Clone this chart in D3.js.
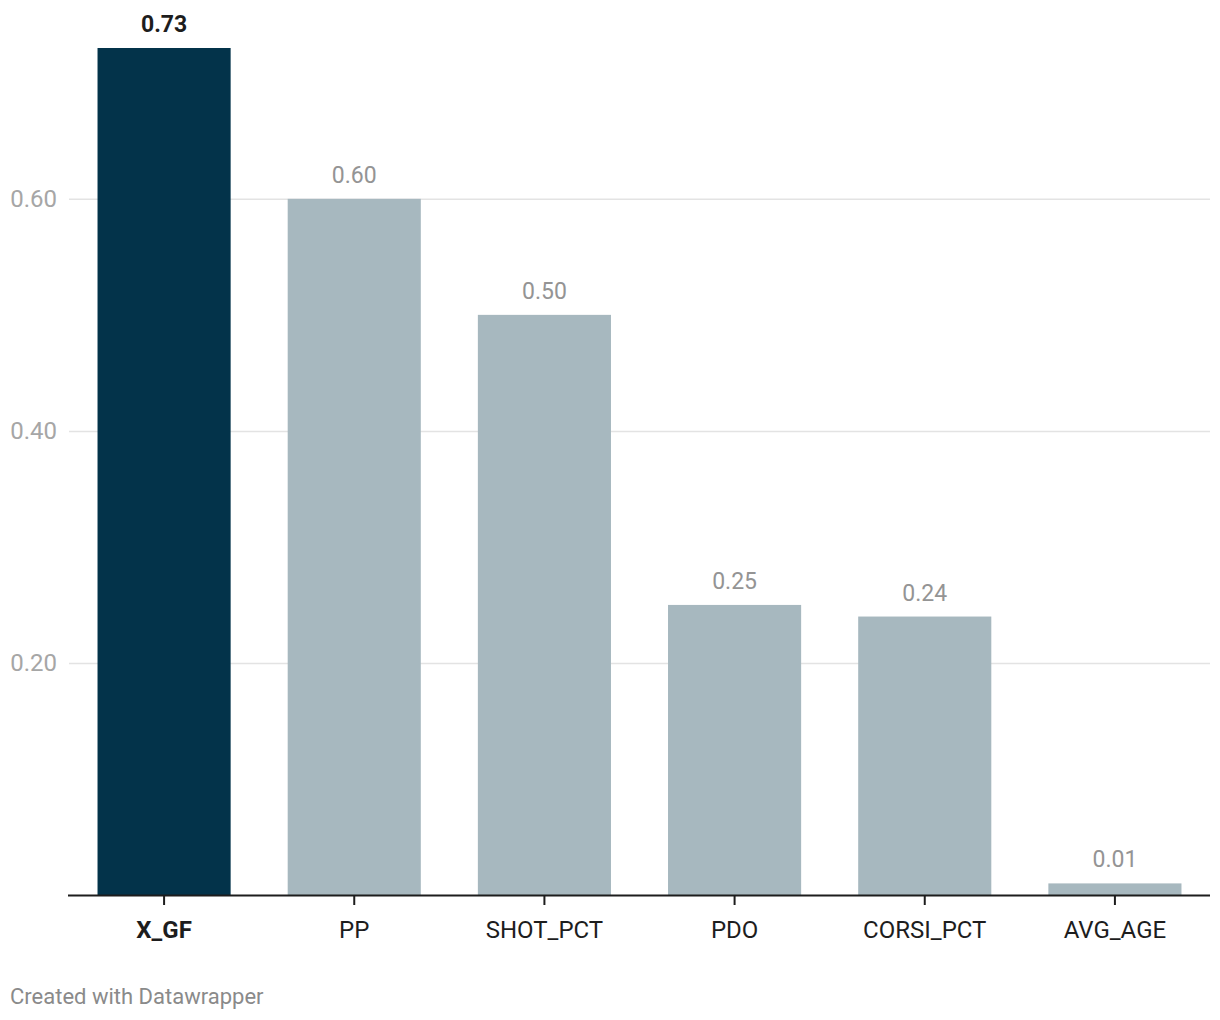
<!DOCTYPE html>
<html><head><meta charset="utf-8">
<script src="https://cdn.jsdelivr.net/npm/d3@7"></script>
<style>body{margin:0;background:#fff;font-family:Roboto,"Noto Sans",sans-serif;}</style>
</head><body>
<svg id="chart" width="1220" height="1020"></svg>
<script>
const categories = ["X_GF","PP","SHOT_PCT","PDO","CORSI_PCT","AVG_AGE"];
const values = [0.73,0.60,0.50,0.25,0.24,0.01];
const highlighted = ["X_GF"];
const yTicks = [0.20,0.40,0.60];

(function(){
const svg = d3.select("#chart");
const mLeft = 69, mRight = 1210, mTop = 48, mBottom = 895;
const x = d3.scaleBand().domain(categories).range([mLeft, mRight]).paddingInner(0.3).paddingOuter(0.15);
const y = d3.scaleLinear().domain([0, 0.73]).range([mBottom, mTop]);

// gridlines
const grid = svg.append("g").attr("class","grid")
  .attr("transform",`translate(${mLeft},0)`)
  .call(d3.axisLeft(y).tickValues(yTicks).tickSize(-(mRight-mLeft)).tickFormat(d3.format(".2f")));
grid.select(".domain").remove();
grid.selectAll("line").attr("stroke","#e3e3e3").attr("stroke-width",1.5);
grid.selectAll("text").attr("x",-12).attr("fill","#a6a6a6").attr("font-size",24)
  .attr("font-family","Roboto, sans-serif");

// bars
svg.append("g").selectAll("rect").data(categories).join("rect")
  .attr("x", d=>x(d)).attr("width", x.bandwidth())
  .attr("y", (d,i)=>y(values[i])).attr("height",(d,i)=>mBottom - y(values[i]))
  .attr("fill", d=> highlighted.includes(d) ? "#03334a" : "#a7b8bf");

// value labels
svg.append("g").selectAll("text").data(categories).join("text")
  .attr("x", d=>x(d)+x.bandwidth()/2).attr("y",(d,i)=>y(values[i])-16)
  .attr("text-anchor","middle").attr("font-size",23)
  .attr("font-family","Roboto, sans-serif")
  .attr("font-weight", d=>highlighted.includes(d)?700:400)
  .attr("fill", d=>highlighted.includes(d)?"#1d1d1d":"#949494")
  .text((d,i)=>d3.format(".2f")(values[i]));

// x axis
const xa = svg.append("g").attr("transform",`translate(0,${mBottom})`)
  .call(d3.axisBottom(x).tickSize(10).tickSizeOuter(0).tickPadding(16));
xa.select(".domain").attr("stroke","#1d1d1d").attr("stroke-width",2).attr("d",`M${mLeft-1},0.5H${mRight}`);
xa.selectAll(".tick line").attr("stroke","#1d1d1d").attr("stroke-width",2);
xa.selectAll("text").attr("font-size",24).attr("fill","#1d1d1d").attr("font-family","Roboto, sans-serif")
  .attr("font-weight", d=>highlighted.includes(d)?700:400);

// footer
svg.append("text").attr("x",10).attr("y",1004).attr("font-size",22).attr("fill","#8a8a8a")
  .attr("font-family","Roboto, sans-serif")
  .text("Created with Datawrapper");
})();
</script>
</body></html>
